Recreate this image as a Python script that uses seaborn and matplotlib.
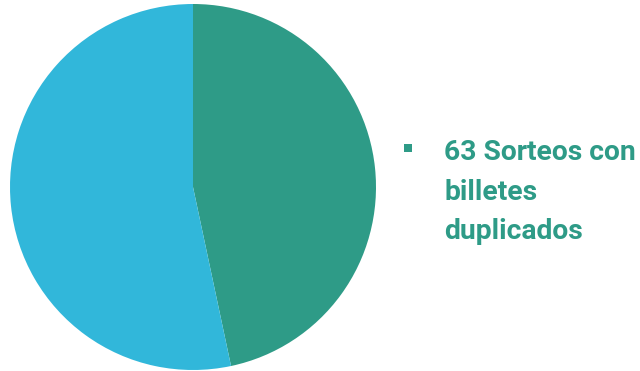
import matplotlib.pyplot as plt
import seaborn as sns
from matplotlib.patches import Rectangle

# sorteos: con billetes duplicados vs. resto
sizes = [63, 72]
colors = ['#2e9b87', '#31b7da']
legend_lines = ['63 Sorteos con', 'billetes', 'duplicados']

sns.set_style('white')
plt.rcParams['font.family'] = ['Roboto', 'DejaVu Sans']

W, H = 640, 371
fig = plt.figure(figsize=(W / 100, H / 100), dpi=100)
ax = fig.add_axes([10 / W, 1 / H, 366 / W, 366 / H])
ax.pie(sizes, colors=colors, startangle=90, counterclock=False,
       wedgeprops=dict(linewidth=0))
ax.set_xlim(-1, 1)
ax.set_ylim(-1, 1)
ax.axis('off')

# legend (only the first slice is labelled)
fig.add_artist(Rectangle((404 / W, 1 - 152 / H), 8 / W, 8 / H,
                         transform=fig.transFigure, color=colors[0], lw=0))
for i, line in enumerate(legend_lines):
    fig.text(444 / W, 1 - (160 + 39.5 * i) / H, line, color=colors[0],
             fontsize=20.3, fontweight='bold', va='baseline', ha='left')

fig.savefig('out.png', dpi=100)
